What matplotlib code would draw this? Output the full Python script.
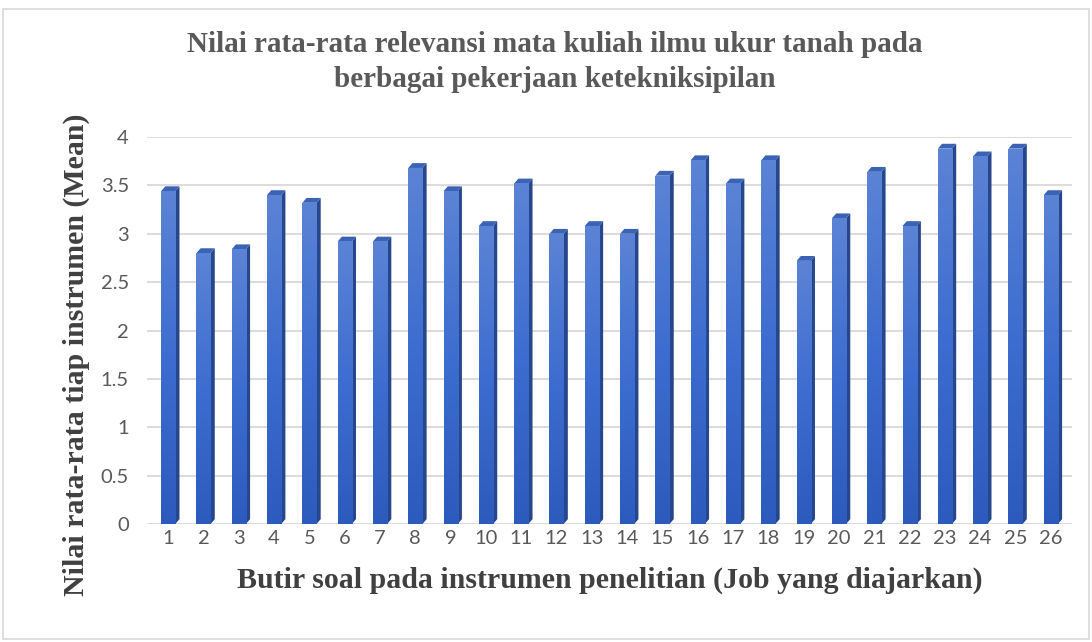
import numpy as np
import matplotlib.pyplot as plt
from matplotlib.patches import Polygon, Rectangle
from matplotlib.colors import LinearSegmentedColormap

# nilai rata-rata tiap butir soal
butir = list(range(1, 27))
mean = [3.44, 2.80, 2.84, 3.40, 3.32, 2.92, 2.92, 3.68, 3.44, 3.08,
        3.52, 3.00, 3.08, 3.00, 3.60, 3.76, 3.52, 3.76, 2.72, 3.16,
        3.64, 3.08, 3.88, 3.80, 3.88, 3.40]
yticks = [0, 0.5, 1, 1.5, 2, 2.5, 3, 3.5, 4]

JUDUL = 'Nilai rata-rata relevansi mata kuliah ilmu ukur tanah pada\nberbagai pekerjaan ketekniksipilan'
XLAB = 'Butir soal pada instrumen penelitian (Job yang diajarkan)'
YLAB = 'Nilai rata-rata tiap instrumen (Mean)'

SERIF = 'Liberation Serif'
fig = plt.figure(figsize=(10.92, 6.42), dpi=100)
ax = fig.add_axes([147/1092, 1-524/642, (1072-147)/1092, (524-137)/642])

W = 0.4      # lebar batang
DX = 0.12    # kedalaman (sumbu x)
DY = 0.05    # kedalaman (sumbu y)

grad = np.linspace(0, 1, 64).reshape(-1, 1)
cmap = LinearSegmentedColormap.from_list('bar', ['#2d5bbd', '#3d6dd0', '#5b83d5'])

for x, v in zip(butir, mean):
    l, r = x - W/2, x + W/2
    # sisi kanan
    ax.add_patch(Polygon([(r, 0), (r + DX, DY), (r + DX, v + DY), (r, v)],
                         closed=True, fc='#27478c', ec='none', zorder=3))
    # atas
    ax.add_patch(Polygon([(l, v), (l + DX, v + DY), (r + DX, v + DY), (r, v)],
                         closed=True, fc='#3a62b5', ec='none', zorder=3))
    # muka depan dengan gradasi
    front = Rectangle((l, 0), W, v, fc='none', ec='none', zorder=3)
    ax.add_patch(front)
    im = ax.imshow(grad, cmap=cmap, aspect='auto', extent=(l, r, 0, v),
                   origin='lower', zorder=3)
    im.set_clip_path(front)

ax.set_xlim(0.4, 26.6)
ax.set_ylim(0, 4)
ax.set_xticks(butir)
ax.set_yticks(yticks)
ax.set_yticklabels([f'{t:g}' for t in yticks])
ax.grid(axis='y', color='#d9d9d9', lw=1.3, zorder=0)
ax.set_axisbelow(True)
for s in ax.spines.values():
    s.set_visible(False)
ax.tick_params(length=0, labelsize=14.5, labelcolor='#595959')
ax.tick_params(axis='x', pad=4)
ax.tick_params(axis='y', pad=13)
for t in ax.get_xticklabels() + ax.get_yticklabels():
    t.set_family('Lato')

ax.set_xlabel(XLAB, family=SERIF, fontweight='bold', fontsize=21.5, color='#404040')
ax.xaxis.set_label_coords(0.5, -(580-524)/387, transform=ax.transAxes)
ax.xaxis.label.set_va('center')
ax.set_ylabel(YLAB, family=SERIF, fontweight='bold', fontsize=21.5, color='#404040')
ax.yaxis.set_label_coords(-(147-76)/925, (524-355)/387)
ax.yaxis.label.set_va('center')

fig.text(0.508, 1-62/642, JUDUL, ha='center', va='center', family=SERIF,
         fontweight='bold', fontsize=21, color='#595959', linespacing=1.35)

fig.patches.append(Rectangle((3/1092, 3/642), 1-6/1092, 1-12/642, transform=fig.transFigure,
                             fill=False, ec='#d9d9d9', lw=1.2))

fig.savefig('out.png', dpi=100)
